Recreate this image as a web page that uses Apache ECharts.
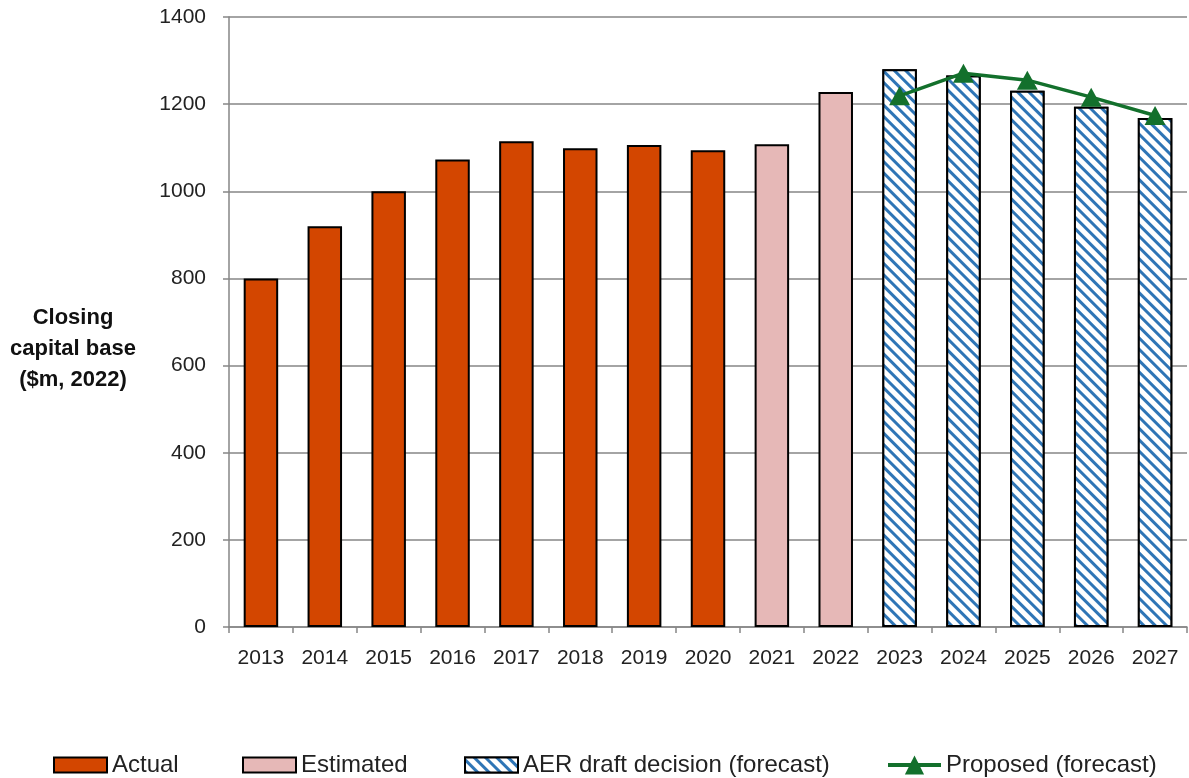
<!DOCTYPE html>
<html>
<head>
<meta charset="utf-8">
<script src="https://cdn.jsdelivr.net/npm/echarts@6/dist/echarts.min.js"></script>
<style>
  html, body { margin: 0; padding: 0; background: #fff; }
  #chart { width: 1189px; height: 778px; }
</style>
</head>
<body>
<div id="chart"></div>
<script>
// Closing capital base, $m (2022 dollars)
const years = ['2013','2014','2015','2016','2017','2018','2019','2020','2021','2022','2023','2024','2025','2026','2027'];
const actual    = [800, 920, 1000, 1073, 1115, 1099, 1106, 1094, null, null, null, null, null, null, null];
const estimated = [null, null, null, null, null, null, null, null, 1108, 1228, null, null, null, null, null];
const aerDraft  = [null, null, null, null, null, null, null, null, null, null, 1280, 1266, 1231, 1194, 1168];
const proposed  = [null, null, null, null, null, null, null, null, null, null, 1219, 1271, 1255, 1216, 1174];
const yTicks = { min: 0, max: 1400, interval: 200 };
const yTitle = 'Closing\ncapital base\n($m, 2022)';

const FONT = 'Liberation Sans';
const GREEN = '#13702c';
const chart = echarts.init(document.getElementById('chart'), null, { renderer: 'canvas' });

const legendBase = {
  top: 753,
  padding: 0,
  itemWidth: 53,
  itemHeight: 15,
  itemGap: 4,
  icon: 'rect',
  textStyle: { fontFamily: FONT, fontSize: 24, color: '#222', padding: [2, 0, 0, 0] },
  selectedMode: false
};

chart.setOption({
  backgroundColor: '#fff',
  animation: false,
  textStyle: { fontFamily: FONT },
  grid: { left: 229, right: 2, top: 17, bottom: 151, containLabel: false },
  graphic: [{
    type: 'text',
    z: 10,
    style: {
      text: yTitle,
      x: 73, y: 349,
      align: 'center', verticalAlign: 'middle',
      fontFamily: FONT, fontSize: 22, fontWeight: 'bold', fill: '#111', lineHeight: 31
    }
  }],
  legend: [
    Object.assign({}, legendBase, { data: ['Actual'], left: 53 }),
    Object.assign({}, legendBase, { data: ['Estimated'], left: 242 }),
    Object.assign({}, legendBase, { data: ['AER draft decision (forecast)'], left: 464 }),
    Object.assign({}, legendBase, {
      data: ['Proposed (forecast)'], left: 886, top: 753, icon: null, itemHeight: 24,
      itemStyle: { color: GREEN },
      lineStyle: { color: GREEN, width: 4 }
    })
  ],
  xAxis: {
    type: 'category',
    data: years,
    axisLine: { lineStyle: { color: '#868686', width: 1.5 } },
    axisTick: { show: true, alignWithLabel: false, length: 6, lineStyle: { color: '#868686', width: 1.5 } },
    axisLabel: { fontFamily: FONT, fontSize: 21, color: '#222', margin: 21 }
  },
  yAxis: {
    type: 'value',
    min: yTicks.min,
    max: yTicks.max,
    interval: yTicks.interval,
    axisLine: { show: true, lineStyle: { color: '#868686', width: 1.5 } },
    axisTick: { show: true, length: 6, lineStyle: { color: '#868686', width: 1.5 } },
    axisLabel: { fontFamily: FONT, fontSize: 21, color: '#222', margin: 23, formatter: v => String(v) },
    splitLine: { lineStyle: { color: '#868686', width: 1.5 } }
  },
  series: [
    {
      name: 'Actual', type: 'bar', stack: 'cap', barWidth: '54%', data: actual,
      itemStyle: { color: '#d34600', borderColor: '#000', borderWidth: 2 }
    },
    {
      name: 'Estimated', type: 'bar', stack: 'cap', barWidth: '54%', data: estimated,
      itemStyle: { color: '#e6b8b7', borderColor: '#000', borderWidth: 2 }
    },
    {
      name: 'AER draft decision (forecast)', type: 'bar', stack: 'cap', barWidth: '54%', data: aerDraft,
      itemStyle: {
        color: '#ffffff', borderColor: '#000', borderWidth: 2,
        decal: {
          symbol: 'rect', color: '#2e75b6', backgroundColor: '#ffffff',
          dashArrayX: [1, 0], dashArrayY: [3, 4.5], rotation: Math.PI / 4, symbolSize: 1
        }
      }
    },
    {
      name: 'Proposed (forecast)', type: 'line', data: proposed,
      symbol: 'triangle', symbolSize: [21, 19], z: 5,
      lineStyle: { color: GREEN, width: 3.5 },
      itemStyle: { color: GREEN }
    }
  ]
});
</script>
</body>
</html>
